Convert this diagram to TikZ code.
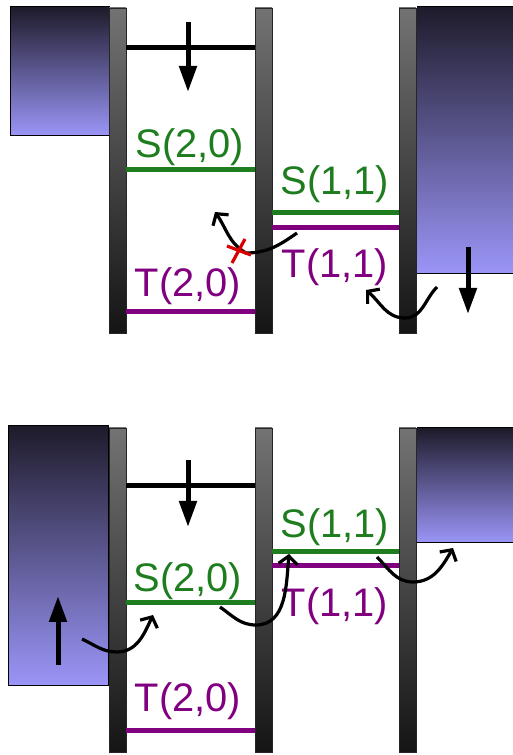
\documentclass[tikz,border=0pt]{standalone}
\usepackage{fontspec}
\setmainfont{Liberation Sans}
\usepackage{xcolor}
\usepackage{tikz}
\usetikzlibrary{arrows.meta}
\usetikzlibrary{calc}

\definecolor{sgreen}{RGB}{30,125,30}
\definecolor{tpurple}{RGB}{128,0,128}
\definecolor{leadlow}{RGB}{155,150,248}
\definecolor{leadhigh}{RGB}{30,27,43}

\tikzset{
  barrier/.style={draw=black!85, line width=0.8bp, top color=black!55, bottom color=black!92},
  lead/.style={top color=leadhigh, bottom color=leadlow},
  level/.style={line width=5bp},
  statename/.style={font=\fontsize{40}{44}\selectfont, inner sep=0pt},
  push/.style={line width=5bp, -{Triangle[width=17bp,length=26bp]}},
  hop/.style={line width=3.2bp, -{Straight Barb[length=8bp,width=19bp]}},
}

\begin{document}
\begin{tikzpicture}[x=1bp, y=1bp]
     \useasboundingbox (0,0) rectangle (513,755);

     %upper panel: leads
     \shade[lead, draw=black, line width=1bp] (10,748) rectangle (109,619);
     \shade[lead] (417,748) rectangle (513,481);
     \draw[line width=1bp] (417,748) -- (513,748);
     \draw[line width=1bp] (417,481) -- (513,481);
     %upper panel: barriers
     \foreach \bx in {109,255,399}
        \draw[barrier] (\bx,747) rectangle ++(17,-325);

     %upper panel: levels
     \draw[level] (126,707) -- (255,707);
     \draw[level, sgreen] (126,585) -- (255,585);
     \draw[level, tpurple] (126,443) -- (255,443);
     \draw[level, sgreen] (272,542) -- (399,542);
     \draw[level, tpurple] (272,527) -- (399,527);

     \node[statename, sgreen] (s20up) at (190,608) {S(2,0)};
     \node[statename, tpurple] (t20up) at (188,469) {T(2,0)};
     \node[statename, sgreen] (s11up) at (335,571) {S(1,1)};
     \node[statename, tpurple] (t11up) at (335,488) {T(1,1)};

     %upper panel: gate and lead arrows
     \coordinate (gateup0) at (188,733);
     \coordinate (gateup1) at (188,663);
     \draw[push] (gateup0) -- (gateup1);
     \coordinate (rightup0) at (468,508);
     \coordinate (rightup1) at (468,441);
     \draw[push] (rightup0) -- (rightup1);

     %upper panel: tunnelling
     \coordinate (blockA) at (297,522);
     \coordinate (blocklow) at (246,502);
     \coordinate (blockB) at (215,543);
     \draw[hop] (blockA) to[out=215,in=0] (blocklow) to[out=150,in=-55] (blockB);
     \coordinate (cross) at (239,504);
     \draw[red!85!black, line width=3.2bp] ($(cross)+(-7,-12)$) -- ($(cross)+(6,12)$)
        ($(cross)+(-12,5)$) -- ($(cross)+(12,-4)$);
     \coordinate (outA) at (437,468);
     \coordinate (outlow) at (405,437);
     \coordinate (outB) at (366,465);
     \draw[hop] (outA) to[out=225,in=0] (outlow) to[out=180,in=-40] (outB);

     %lower panel: leads
     \shade[lead, draw=black, line width=1bp] (8,329) rectangle (108,69);
     \shade[lead] (417,327) rectangle (513,212);
     \draw[line width=1bp] (417,327) -- (513,327);
     \draw[line width=1bp] (417,212) -- (513,212);
     %lower panel: barriers
     \foreach \bx in {109,255,399}
        \draw[barrier] (\bx,327) rectangle ++(17,-324);

     %lower panel: levels
     \draw[level] (126,269) -- (255,269);
     \draw[level, sgreen] (126,152) -- (255,152);
     \draw[level, tpurple] (126,24) -- (255,24);
     \draw[level, sgreen] (272,203) -- (399,203);
     \draw[level, tpurple] (272,189) -- (399,189);

     \node[statename, sgreen] (s20dn) at (188,174) {S(2,0)};
     \node[statename, tpurple] (t20dn) at (188,54) {T(2,0)};
     \node[statename, sgreen] (s11dn) at (335,228) {S(1,1)};
     \node[statename, tpurple] (t11dn) at (335,149) {T(1,1)};

     %lower panel: gate and lead arrows
     \coordinate (gatedn0) at (188,295);
     \coordinate (gatedn1) at (188,228);
     \draw[push] (gatedn0) -- (gatedn1);
     \coordinate (leftdn0) at (58,90);
     \coordinate (leftdn1) at (58,159);
     \draw[push] (leftdn0) -- (leftdn1);

     %lower panel: tunnelling
     \coordinate (hopA0) at (82,116);
     \coordinate (hopAlow) at (117,103);
     \coordinate (hopA1) at (153,140);
     \draw[hop] (hopA0) to[out=-25,in=180] (hopAlow) to[out=0,in=-115] (hopA1);
     \coordinate (hopB0) at (220,148);
     \coordinate (hopBlow) at (256,130);
     \coordinate (hopB1) at (289,201);
     \draw[hop] (hopB0) to[out=-35,in=180] (hopBlow) to[out=0,in=-95] (hopB1);
     \coordinate (hopC0) at (377,198);
     \coordinate (hopClow) at (413,173);
     \coordinate (hopC1) at (453,207);
     \draw[hop] (hopC0) to[out=-45,in=180] (hopClow) to[out=0,in=-120] (hopC1);
\end{tikzpicture}
\end{document}
